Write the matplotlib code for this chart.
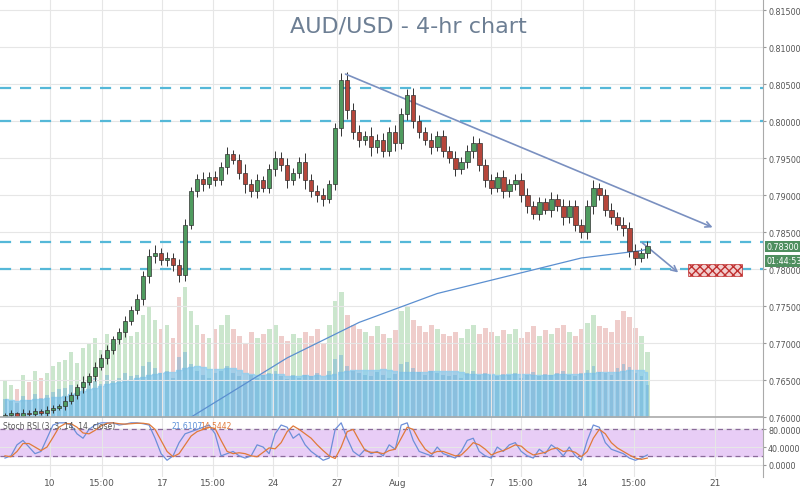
import matplotlib
matplotlib.use("Agg")
import matplotlib.pyplot as plt
import numpy as np
import pandas as pd
from matplotlib.patches import Rectangle

closes = [0.7603,0.7605,0.7601,0.7606,0.7604,0.7608,0.7606,0.7610,0.7612,0.7615,
          0.7622,0.7630,0.7640,0.7648,0.7655,0.7668,0.7680,
          0.7690,0.7705,0.7715,0.7730,0.7745,
          0.7760,0.7790,0.7818,
          0.7822,0.7812,0.7815,0.7805,0.7792,
          0.7860,0.7905,0.7922,
          0.7915,0.7925,0.7920,0.7938,0.7955,0.7948,
          0.7930,0.7915,0.7905,0.7920,0.7910,
          0.7935,0.7950,0.7940,0.7920,0.7930,
          0.7945,0.7920,0.7905,0.7900,0.7895,0.7915,
          0.7990,0.8055,0.8015,
          0.7985,0.7975,0.7980,0.7965,0.7975,0.7960,0.7985,0.7970,0.8010,
          0.8035,0.8000,0.7985,0.7975,0.7965,0.7980,0.7960,
          0.7950,0.7935,0.7945,0.7960,0.7970,0.7940,0.7920,
          0.7910,0.7925,0.7905,0.7915,0.7920,0.7900,
          0.7885,0.7875,0.7890,0.7880,0.7895,0.7885,0.7870,0.7885,0.7860,
          0.7850,0.7885,0.7910,0.7900,
          0.7880,0.7870,0.7860,0.7855,
          0.7825,0.7815,0.7822,0.7831]
first_open = 0.7600
wick_pips = [3,4,2,5,3,4,3,5,4,3, 6,4,5,7,4,6,5, 8,5,6,7,5, 6,8,9, 10,6,8,7,9,
             8,6,7, 9,6,8,7,10,6, 8,12,7,9,6, 7,9,8,10,6, 7,12,8,9,10,6,
             8,10,12, 9,10,7,12,8,9,7,10,8, 9,10,8,7,9,6,8, 7,9,6,8,10,7,9,
             8,6,9,7,8,10, 9,7,8,6,9,7,10,8,9, 8,9,10,7, 8,9,7,10, 8,9,6,7]
volumes = [40,35,30,45,38,50,42,48,55,60, 62,70,58,75,80,85,72, 90,78,85,95,88,
           92,110,120, 105,95,100,85,130, 140,115,100, 90,85,95,100,110,95,
           88,80,92,85,90, 95,100,88,82,90, 85,92,88,95,80,100,
           125,135,110, 100,95,92,88,98,90,85,94,115, 120,105,98,92,100,95,90,
           88,92,85,95,100,90,96, 92,88,94,90,95,85, 92,98,88,94,90,96,100,92,88,
           95,102,110,98, 96,92,105,115, 108,96,88,70]
ma_start = 31
ma_values = [0.7600,0.7605,0.7610,0.7615,0.7620,0.7625,0.7630,0.7635,0.7640,0.7645,
             0.7650,0.7655,0.7660,0.7665,0.7670,0.7675,0.7680,0.7684,0.7688,0.7692,
             0.7696,0.7700,0.7704,0.7708,0.7712,0.7716,0.7720,0.7724,0.7728,0.7731,
             0.7734,0.7737,0.7740,0.7743,0.7746,0.7749,0.7752,0.7755,0.7758,0.7761,
             0.7764,0.7767,0.7769,0.7771,0.7773,0.7775,0.7777,0.7779,0.7781,0.7783,
             0.7785,0.7787,0.7789,0.7791,0.7793,0.7795,0.7797,0.7799,0.7801,0.7803,
             0.7805,0.7807,0.7809,0.7811,0.7813,0.7815,0.7816,0.7817,0.7818,0.7819,
             0.7820,0.7821,0.7822,0.7823,0.7824,0.7825,0.7827]
rsi_k = [15,20,45,55,40,25,30,60,90,95, 95,90,70,60,80,90,95, 95,95,90,92,95,95,93,90,
         60,25,10,20,50, 70,75,80, 85,90,70,20,25,30,20, 15,20,45,40,25,
         70,90,85,60,70, 45,30,20,10,15, 80,95,60, 30,20,35,25,30,20,45,35,90,
         95,55,30,25,20,40,25, 20,15,30,55,60,30,20, 15,40,30,45,50,30, 20,15,35,
         25,45,35,20,40,20, 10,55,90,85, 50,35,30,25, 15,10,15,22]
rsi_d = [20,18,30,48,48,40,32,40,62,85, 93,93,85,72,70,78,88, 94,95,93,92,93,94,94,92,
         80,55,30,18,25, 45,65,75, 80,85,82,55,30,25,27,25, 20,18,28,38,36,
         50,75,88,80,70, 60,45,32,20,14, 40,75,80, 55,32,28,28,25,32,35,60,
         85,80,55,35,25,30,30, 25,20,22,35,50,45,35, 22,28,32,38,45,42, 30,22,25,
         28,35,38,30,32,28, 18,30,60,80, 70,50,38,30, 22,15,12,15]

tick_pos = [7.5,16.2,26.2,34.7,44.7,55.3,65.5,81,86,96.2,104.8,118.2]
tick_lab = ["10","15:00","17","15:00","24","27","Aug","7","15:00","14","15:00","21"]
levels = [0.8045,0.8000,0.7837,0.7800]
price_ticks = [0.760,0.765,0.770,0.775,0.780,0.785,0.790,0.795,0.800,0.805,0.810,0.815]

n = len(closes)
opens = [first_open] + closes[:-1]
idx = np.arange(n)

fig = plt.figure(figsize=(8,4.89), dpi=100)
ax = fig.add_axes([0.0, 0.145, 0.954, 0.855])
axr = fig.add_axes([0.0, 0.0225, 0.954, 0.1225], sharex=ax)

grid_c = "#e6e6e6"
axv = ax.twinx()
vcol = ["#b6dcb9" if c >= o else "#e9b9b5" for o, c in zip(opens, closes)]
axv.bar(idx, volumes, width=0.8, color=vcol, alpha=0.7, zorder=1)
vma = pd.Series(volumes).rolling(10, min_periods=1).mean().values * 0.5
axv.fill_between(idx, 0, vma, color="#8ccdf0", alpha=0.75, step="mid", zorder=2)
axv.bar(idx, [v * 0.5 for v in volumes], width=0.6, color="#6aaed6", alpha=0.45, zorder=2)
axv.set_ylim(0, max(volumes) / 0.31)
axv.axis("off")
ax.set_zorder(axv.get_zorder() + 1)
ax.patch.set_visible(False)

for i in idx:
    o, c = opens[i], closes[i]
    w = wick_pips[i] * 0.0001
    up = c >= o
    col = "#4f9b5f" if up else "#b6463b"
    ax.vlines(i, min(o, c) - w, max(o, c) + w, color="#333333", lw=0.7, zorder=3)
    ax.add_patch(Rectangle((i - 0.38, min(o, c)), 0.76, max(abs(c - o), 0.00008),
                           facecolor=col, edgecolor="#333333", lw=0.5, zorder=4))

ax.plot(np.arange(ma_start, ma_start + len(ma_values)), ma_values, color="#5b8fd0", lw=0.9, zorder=3)
for lv in levels:
    ax.axhline(lv, color="#55b8d8", lw=1.6, ls=(0, (5, 4)), zorder=2)

ax.annotate("", xy=(118.3, 0.7855), xytext=(56.3, 0.8065),
            arrowprops=dict(arrowstyle="->", color="#7a90c0", lw=1.2))
ax.annotate("", xy=(112.5, 0.7793), xytext=(105.8, 0.7838),
            arrowprops=dict(arrowstyle="->", color="#7a90c0", lw=1.2))
ax.add_patch(Rectangle((113.8, 0.77905), 9.0, 0.0016, facecolor="#f2d0d0",
                       edgecolor="#c03030", hatch="xxxx", lw=0.5, zorder=3))

ax.set_xlim(-0.83, 126.3)
ax.set_ylim(0.7600, 0.8165)
ax.yaxis.tick_right()
ax.set_yticks(price_ticks)
ax.set_yticklabels([f"{p:.5f}" for p in price_ticks], fontsize=5.8, color="#555555")
ax.grid(True, color=grid_c, lw=0.8)
ax.tick_params(axis="x", labelbottom=False, length=0)
ax.tick_params(axis="y", length=2, color="#999999", pad=1.5)
for s in ["top", "left", "bottom"]:
    ax.spines[s].set_visible(False)
ax.spines["right"].set_color("#aaaaaa")

ax.text(0.535, 0.96, "AUD/USD - 4-hr chart", transform=ax.transAxes, ha="center",
        va="top", fontsize=16, color="#6d7f94")
ypos = (0.78308 - 0.7600) / 0.0565
ax.text(1.004, ypos, "0.78300", transform=ax.transAxes, ha="left",
        va="center", fontsize=5.8, color="white",
        bbox=dict(boxstyle="square,pad=0.15", fc="#4f8f5f", ec="none"))
ax.text(1.004, ypos - 0.035, "01:44:53", transform=ax.transAxes,
        ha="left", va="center", fontsize=5.8, color="white",
        bbox=dict(boxstyle="square,pad=0.15", fc="#4f8f5f", ec="none"))

axr.axhspan(20, 80, color="#e8cdf6", zorder=0)
axr.axhline(80, color="#8a6a9a", lw=0.9, ls=(0, (4, 3)))
axr.axhline(20, color="#8a6a9a", lw=0.9, ls=(0, (4, 3)))
axr.plot(idx, rsi_k, color="#6d8fd8", lw=0.9)
axr.plot(idx, rsi_d, color="#e07a3a", lw=0.9)
axr.set_ylim(-28, 108)
axr.yaxis.tick_right()
axr.set_yticks([0, 40, 80])
axr.set_yticklabels(["0.0000", "40.0000", "80.0000"], fontsize=5.8, color="#555555")
axr.set_xticks(tick_pos)
axr.set_xticklabels(tick_lab, fontsize=6.5, color="#555555")
axr.tick_params(axis="x", length=0, pad=1)
axr.tick_params(axis="y", length=2, color="#999999", pad=1.5)
axr.grid(True, color=grid_c, lw=0.8)
for s in ["top", "left", "bottom"]:
    axr.spines[s].set_visible(False)
axr.spines["right"].set_color("#aaaaaa")
axr.text(0.004, 0.86, "Stoch RSI (3, 3, 14, 14, close)", transform=axr.transAxes,
         fontsize=5.5, color="#555555", va="center")
axr.text(0.225, 0.86, "21.6107", transform=axr.transAxes, fontsize=5.5, color="#5a8fd8", va="center")
axr.text(0.262, 0.86, "14.5442", transform=axr.transAxes, fontsize=5.5, color="#e07a3a", va="center")
fig.add_artist(plt.Line2D([0, 0.954], [0.145, 0.145], color="#aaaaaa", lw=1.2))

fig.savefig("out.png", dpi=100)
